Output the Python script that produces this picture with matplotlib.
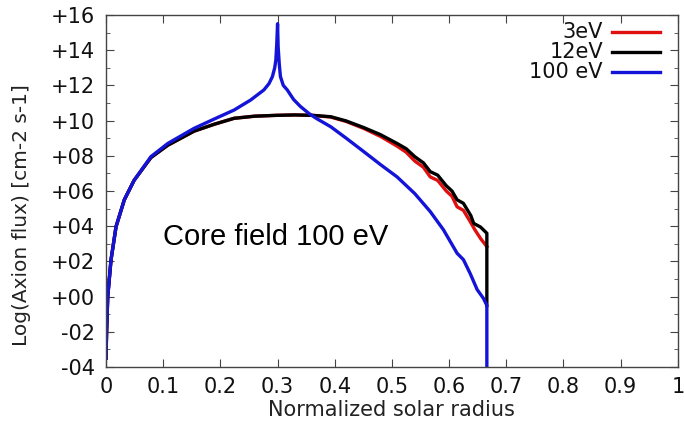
import matplotlib
matplotlib.use("Agg")
import matplotlib.pyplot as plt
from matplotlib.ticker import MultipleLocator, FuncFormatter
from matplotlib.lines import Line2D

# ---- data ----
x_12 = [0, 0.001, 0.003, 0.0087, 0.0175, 0.032, 0.049, 0.0785, 0.108, 0.154, 0.19,
        0.224, 0.26, 0.3, 0.33, 0.36, 0.393, 0.42, 0.451, 0.48, 0.509, 0.525, 0.54,
        0.555, 0.567, 0.58, 0.595, 0.605, 0.614, 0.625, 0.638, 0.643, 0.655, 0.666, 0.666]
y_12 = [-3.5, -2.0, 0.0, 2.08, 3.97, 5.5, 6.6, 7.9, 8.6, 9.4, 9.8,
        10.13, 10.25, 10.3, 10.32, 10.3, 10.22, 9.98, 9.6, 9.2, 8.7, 8.4, 7.95,
        7.6, 7.1, 6.9, 6.3, 6.0, 5.5, 5.3, 4.6, 4.16, 3.95, 3.6, -0.5]

x_3 = [0, 0.001, 0.003, 0.0087, 0.0175, 0.032, 0.049, 0.0785, 0.108, 0.154, 0.19,
       0.224, 0.26, 0.3, 0.33, 0.36, 0.393, 0.42, 0.451, 0.48, 0.509, 0.525, 0.54,
       0.555, 0.567, 0.58, 0.595, 0.605, 0.614, 0.625, 0.638, 0.645, 0.655, 0.666]
y_3 = [-3.5, -2.0, 0.0, 2.08, 3.97, 5.5, 6.6, 7.9, 8.6, 9.4, 9.8,
       10.13, 10.25, 10.3, 10.32, 10.3, 10.2, 9.95, 9.55, 9.1, 8.55, 8.2, 7.7,
       7.35, 6.8, 6.6, 6.0, 5.7, 5.1, 4.9, 4.2, 3.8, 3.3, 2.84]

x_100 = [0, 0.001, 0.003, 0.0087, 0.0175, 0.032, 0.049, 0.0785, 0.108, 0.154, 0.19,
         0.224, 0.253, 0.276, 0.285, 0.291, 0.295, 0.297, 0.2985, 0.3, 0.301, 0.303,
         0.305, 0.31, 0.317, 0.328, 0.34, 0.355, 0.369, 0.393, 0.42, 0.451, 0.48, 0.509,
         0.54, 0.567, 0.59, 0.614, 0.625, 0.637, 0.649, 0.66, 0.666, 0.666]
y_100 = [-3.5, -2.0, 0.0, 2.08, 3.97, 5.5, 6.6, 7.95, 8.7, 9.56, 10.1,
         10.6, 11.17, 11.74, 12.1, 12.5, 13.0, 13.44, 14.3, 15.5, 14.2, 13.2,
         12.5, 12.0, 11.74, 11.2, 10.8, 10.4, 10.1, 9.65, 9.0, 8.23, 7.5, 6.8,
         5.85, 4.83, 3.8, 2.46, 2.1, 1.3, 0.4, -0.1, -0.5, -4.0]

labels = ["3eV", "12eV", "100 eV"]
colors = ["#e01010", "#000000", "#1414d8"]
x_ticks = [0, 0.1, 0.2, 0.3, 0.4, 0.5, 0.6, 0.7, 0.8, 0.9, 1]
x_ticklabels = ["0", "0.1", "0.2", "0.3", "0.4", "0.5", "0.6", "0.7", "0.8", "0.9", "1"]

fig = plt.figure(figsize=(6.84, 4.28), dpi=100)
ax = fig.add_axes([0.155, 0.1425, 0.836, 0.8225])

lw = 2.4
ax.plot(x_3, y_3, color=colors[0], lw=lw, label=labels[0])
ax.plot(x_12, y_12, color=colors[1], lw=lw, label=labels[1])
ax.plot(x_100, y_100, color=colors[2], lw=lw, label=labels[2])

ax.set_xlim(0, 1)
ax.set_ylim(-4, 16)
ax.set_xticks(x_ticks)
ax.set_xticklabels(x_ticklabels)
ax.yaxis.set_major_locator(MultipleLocator(2))
ax.yaxis.set_minor_locator(MultipleLocator(1))
ax.yaxis.set_major_formatter(FuncFormatter(lambda v, p: f"{int(round(v)):+03d}"))

for s in ax.spines.values():
    s.set_color("#444444")
    s.set_linewidth(1.0)
ax.tick_params(which="both", direction="in", top=True, right=True, color="#444444",
               labelsize=15, labelcolor="#111111")
ax.tick_params(which="major", length=6)
ax.tick_params(axis="y", which="major", pad=8)
ax.tick_params(axis="x", which="major", pad=7)
ax.tick_params(which="minor", length=3)

ax.set_xlabel("Normalized solar radius", fontsize=15, color="#222222", labelpad=2)
ax.set_ylabel("Log(Axion flux) [cm-2 s-1]", fontsize=14.5, color="#222222")
ax.yaxis.set_label_coords(-0.131, 0.432)

ax.text(0.1, 0.3466, "Core field 100 eV", transform=ax.transAxes, fontsize=21,
        family="Liberation Sans", va="baseline", ha="left")

# gnuplot-style key: right-aligned text followed by the line sample
key_y = [0.9526, 0.8957, 0.837]
for lab, col, yk in zip(labels, colors, key_y):
    ax.text(0.869, yk, lab, transform=ax.transAxes, fontsize=15, ha="right",
            va="center", color="#111111")
    ax.add_line(Line2D([0.884, 0.9685], [yk, yk], transform=ax.transAxes,
                       color=col, lw=lw, clip_on=False))

fig.savefig("out.png", dpi=100)
